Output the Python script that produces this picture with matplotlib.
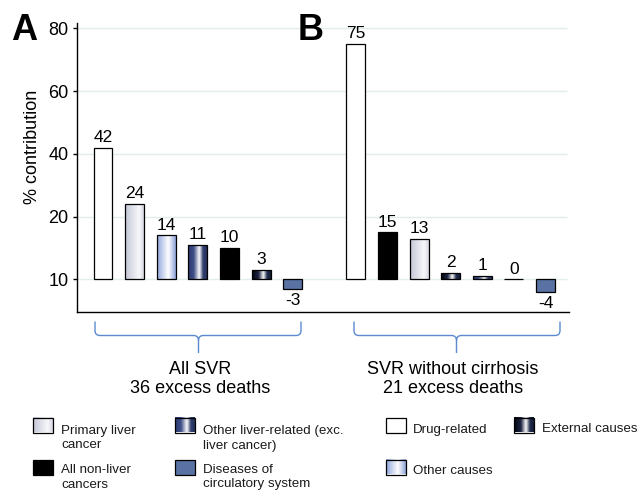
import numpy as np
import matplotlib
matplotlib.use("Agg")
import matplotlib.pyplot as plt
from matplotlib.colors import LinearSegmentedColormap
from matplotlib.patches import Rectangle, PathPatch
from matplotlib.path import Path

plt.rcParams['font.family'] = ['Liberation Sans', 'DejaVu Sans']

# ---------------- data ----------------
panel_a_categories = ['Drug-related', 'Primary liver cancer', 'Other causes',
                      'Other liver-related', 'All non-liver cancers',
                      'External causes', 'Diseases of circulatory system']
panel_a_values = [42, 24, 14, 11, 10, 3, -3]

panel_b_categories = ['Drug-related', 'All non-liver cancers', 'Primary liver cancer',
                      'External causes', 'Other liver-related', 'Other causes',
                      'Diseases of circulatory system']
panel_b_values = [75, 15, 13, 2, 1, 0, -4]

panel_labels = ['A', 'B']
group_labels = ['All SVR\n36 excess deaths', 'SVR without cirrhosis\n21 excess deaths']
ytick_values = [0, 20, 40, 60, 80]
ytick_labels = ['10', '20', '40', '60', '80']

legend_categories = ['Primary liver cancer', 'Other liver-related', 'Drug-related',
                     'External causes', 'All non-liver cancers',
                     'Diseases of circulatory system', 'Other causes']
legend_texts = ['Primary liver\ncancer', 'Other liver-related (exc.\nliver cancer)',
                'Drug-related', 'External causes', 'All non-liver\ncancers',
                'Diseases of\ncirculatory system', 'Other causes']

# ---------------- styles ----------------
styles = {
    'Drug-related': '#ffffff',
    'All non-liver cancers': '#000000',
    'Diseases of circulatory system': '#5a71a3',
    'Primary liver cancer': [(0.0, '#c3c6d6'), (0.75, '#f8f8fb'), (1.0, '#d3d4df')],
    'Other causes': [(0.0, '#8ea5dc'), (0.6, '#ffffff'), (1.0, '#8aa0d6')],
    'Other liver-related': [(0.0, '#2c3b70'), (0.3, '#3c4c85'), (0.6, '#ffffff'), (0.8, '#2f3c6c'), (1.0, '#27335e')],
    'External causes': [(0.0, '#03050f'), (0.35, '#1c2442'), (0.6, '#ffffff'), (0.8, '#1f2a4c'), (1.0, '#141c36')],
}
grad = np.linspace(0, 1, 256).reshape(1, -1)

def cmap_for(stops):
    return LinearSegmentedColormap.from_list('g', stops)

# ---------------- figure ----------------
W, H = 637, 492
fig = plt.figure(figsize=(W / 100, H / 100), dpi=100)
ax = fig.add_axes([76.7 / W, 1 - 312 / H, (569 - 76.7) / W, (312 - 22.7) / H])

xa = np.arange(len(panel_a_values))
xb = np.arange(len(panel_b_values)) + len(panel_a_values) + 1
xs = np.concatenate([xa, xb])
vals = panel_a_values + panel_b_values
cats = panel_a_categories + panel_b_categories

xlim = (-0.832, 14.742)
ylim = (-10.4, 81.8)

# grid lines
ax.hlines(ytick_values, xlim[0], 14.68, color='#e2eded', linewidth=1.0, zorder=0)

bar_w = 0.6
bars = ax.bar(xs, vals, width=bar_w, edgecolor='black', linewidth=0.9, zorder=3)
for b, c, v in zip(bars, cats, vals):
    st = styles[c]
    if isinstance(st, str):
        b.set_facecolor(st)
    else:
        b.set_facecolor('none')
        if v != 0:
            x0 = b.get_x()
            y0, y1 = sorted([0, v])
            im = ax.imshow(grad, cmap=cmap_for(st), extent=[x0, x0 + bar_w, y0, y1],
                           aspect='auto', zorder=2.9, interpolation='bicubic')
            im.set_clip_path(b)

for x, v in zip(xs, vals):
    if v >= 0:
        ax.annotate(str(v), (x, v), xytext=(0, 2), textcoords='offset points',
                    ha='center', va='bottom', fontsize=12.5)
    else:
        ax.annotate(str(v), (x, v), xytext=(0, -3), textcoords='offset points',
                    ha='center', va='top', fontsize=12.5)

ax.set_xlim(*xlim)
ax.set_ylim(*ylim)
ax.set_yticks(ytick_values)
ax.set_yticklabels(ytick_labels)
ax.set_xticks([])
ax.tick_params(axis='y', length=3, width=1, pad=3, labelsize=13)
for s in ['top', 'right']:
    ax.spines[s].set_visible(False)
for s in ['left', 'bottom']:
    ax.spines[s].set_linewidth(1.0)
ax.set_facecolor('none')
ax.set_ylabel('% contribution', fontsize=13)
ax.yaxis.set_label_coords((41 - 76.7) / (569 - 76.7), (312 - 146.5) / (312 - 22.7))

# ---------------- overlay (pixel coordinates) ----------------
ov = fig.add_axes([0, 0, 1, 1], facecolor='none')
ov.set_xlim(0, W)
ov.set_ylim(H, 0)
ov.axis('off')

# panel labels
for lab, px in zip(panel_labels, [24.5, 311]):
    ov.text(px, 30, lab, fontsize=26, fontweight='bold', ha='center', va='center')

# braces
def brace(x0, x1, xc, ytop, ymid, ybot, r=5):
    verts = [(x0, ytop), (x0, ymid - r), (x0, ymid), (x0 + r, ymid),
             (xc - r, ymid), (xc, ymid), (xc, ymid + r), (xc, ybot),
             (xc, ymid + r), (xc, ymid), (xc + r, ymid),
             (x1 - r, ymid), (x1, ymid), (x1, ymid - r), (x1, ytop)]
    codes = [Path.MOVETO, Path.LINETO, Path.CURVE3, Path.CURVE3,
             Path.LINETO, Path.CURVE3, Path.CURVE3, Path.LINETO,
             Path.MOVETO, Path.CURVE3, Path.CURVE3,
             Path.LINETO, Path.CURVE3, Path.CURVE3, Path.LINETO]
    ov.add_patch(PathPatch(Path(verts, codes), facecolor='none',
                           edgecolor='#5b8ad0', linewidth=1.0))

def nlines(s):
    return s.count('\n') + 1

brace_layout = [(95, 301, 198.5), (354, 560, 456.5)]
group_pitch = 20
for (b0, b1, bc), gl, tx in zip(brace_layout, group_labels, [200.5, 453]):
    brace(b0, b1, bc, 321.5, 335.5, 353)
    ov.text(tx, 373.3 + (nlines(gl) - 1) * group_pitch, gl, ha='center', va='baseline',
            fontsize=13, multialignment='center', linespacing=1.2)

# legend
legend_layout = [(33, 418, 61, 432.5), (175, 418, 203, 432.5), (386, 418, 413, 432.5),
                 (514, 418, 542, 432.5), (33, 460, 61, 471.5), (175, 460, 203, 471.5),
                 (386, 460, 413, 473.5)]
legend_pitch = 16
bw, bh = 20, 14.5
for c, t, (bx, by, tx, ty) in zip(legend_categories, legend_texts, legend_layout):
    st = styles[c]
    if isinstance(st, str):
        ov.add_patch(Rectangle((bx, by), bw, bh, facecolor=st, edgecolor='black', linewidth=0.9))
    else:
        ov.imshow(grad, cmap=cmap_for(st), extent=[bx, bx + bw, by + bh, by],
                  aspect='auto', interpolation='bicubic')
        ov.add_patch(Rectangle((bx, by), bw, bh, facecolor='none', edgecolor='black', linewidth=0.9))
    ov.text(tx, ty + (nlines(t) - 1) * legend_pitch, t, fontsize=9.6, ha='left',
            va='baseline', linespacing=1.3, color='#1a1a1a')
ov.set_xlim(0, W)
ov.set_ylim(H, 0)

fig.savefig('out.png', dpi=100)
